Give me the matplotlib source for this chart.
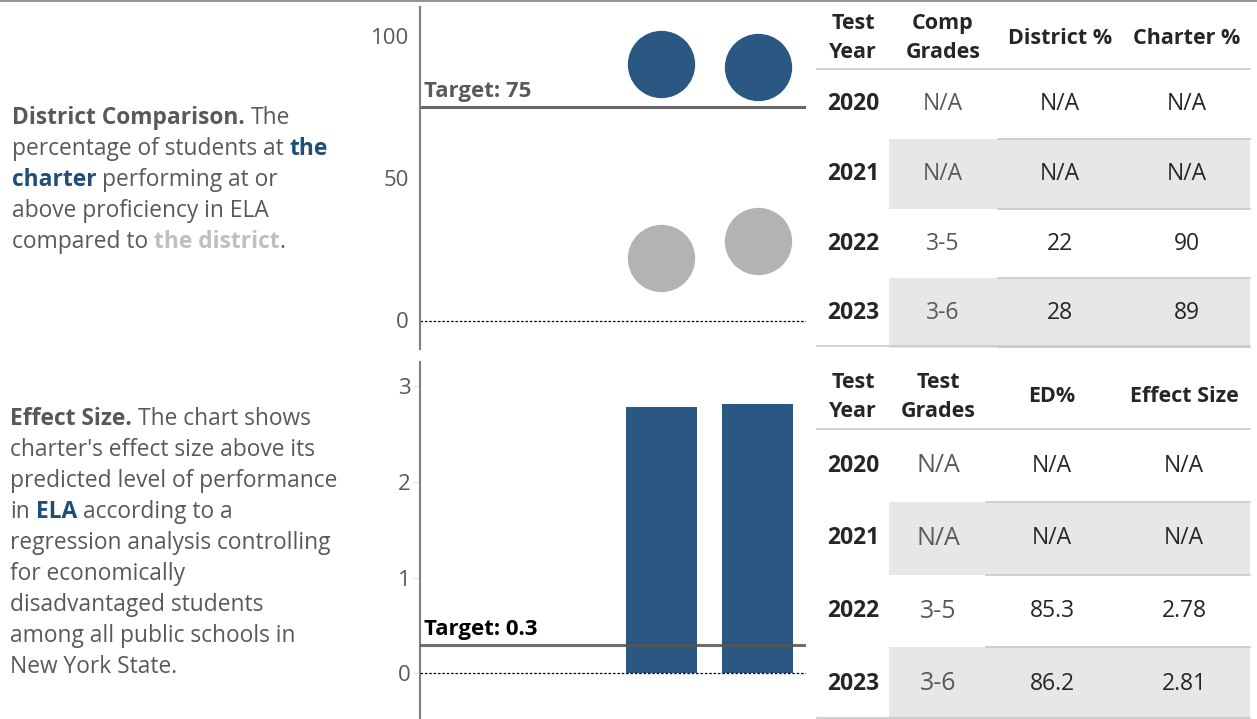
import matplotlib.pyplot as plt
from matplotlib.patches import Rectangle

plt.rcParams['font.family'] = ['Open Sans', 'DejaVu Sans']

# ---- data ----
years = ['2020', '2021', '2022', '2023']
comp_grades = ['N/A', 'N/A', '3-5', '3-6']
district_pct = [None, None, 22, 28]
charter_pct = [None, None, 90, 89]
test_grades = ['N/A', 'N/A', '3-5', '3-6']
ed_pct = [None, None, 85.3, 86.2]
effect_size = [None, None, 2.78, 2.81]
prof_target = 75
effect_target = 0.3

BLUE = '#2b5783'
LGRAY = '#b3b3b3'
TXT = '#595959'
DARK = '#262626'
W, H = 1257, 719

fig = plt.figure(figsize=(W / 100, H / 100), dpi=100)
renderer = fig.canvas.get_renderer()


def px_axes(l, t, r, b):
    return fig.add_axes([l / W, 1 - b / H, (r - l) / W, (b - t) / H])


def fmt(v, nd):
    if v is None:
        return 'N/A'
    return f'{v:.{nd}f}'


# top border
fig.add_artist(plt.Line2D([0, 1], [1 - 1 / H, 1 - 1 / H], color='#7f7f7f', lw=1.2))

# ---- left descriptive text ----
FS = 16.4
probe = fig.text(0, 0, 'a a', fontsize=FS)
probe2 = fig.text(0, 0, 'aa', fontsize=FS)
SPACE = probe.get_window_extent(renderer).width - probe2.get_window_extent(renderer).width
probe.remove()
probe2.remove()


def draw_runs(x0, y, runs):
    x = x0
    for s, weight, color in runs:
        lead = len(s) - len(s.lstrip(' '))
        trail = len(s) - len(s.rstrip(' '))
        x += lead * SPACE
        t = fig.text(x / W, 1 - y / H, s.strip(' '), fontsize=FS, fontweight=weight,
                     color=color, va='center', ha='left')
        x += t.get_window_extent(renderer).width + trail * SPACE


N, B = 'normal', 'bold'
top_lines = [
    [('District Comparison.', B, TXT), (' The', N, TXT)],
    [('percentage of students at ', N, TXT), ('the', B, '#1f4e79')],
    [('charter', B, '#1f4e79'), (' performing at or', N, TXT)],
    [('above proficiency in ELA', N, TXT)],
    [('compared to ', N, TXT), ('the district', B, '#bfbfbf'), ('.', N, TXT)],
]
for i, runs in enumerate(top_lines):
    draw_runs(12, 118 + 31 * i, runs)

bot_lines = [
    [('Effect Size.', B, TXT), (' The chart shows', N, TXT)],
    [("charter's effect size above its", N, TXT)],
    [('predicted level of performance', N, TXT)],
    [('in ', N, TXT), ('ELA', B, '#1f4e79'), (' according to a', N, TXT)],
    [('regression analysis controlling', N, TXT)],
    [('for economically', N, TXT)],
    [('disadvantaged students', N, TXT)],
    [('among all public schools in', N, TXT)],
    [('New York State.', N, TXT)],
]
for i, runs in enumerate(bot_lines):
    draw_runs(10, 419 + 31 * i, runs)

xs = list(range(len(years)))

# ---- top chart: proficiency dots ----
ax1 = px_axes(420, 7, 806, 349)
ax1.set_xlim(-0.5, 3.5)
ax1.set_ylim(-10, 110)
for x, d, c in zip(xs, district_pct, charter_pct):
    if d is not None:
        ax1.scatter(x, d, s=2350, color=LGRAY, zorder=3, linewidths=0)
    if c is not None:
        ax1.scatter(x, c, s=2350, color=BLUE, zorder=3, linewidths=0)
ax1.axhline(prof_target, color='#666666', lw=2.2, zorder=2)
ax1.axhline(0, color='black', lw=0.9, ls=(0, (2, 1.5)), zorder=2)
ax1.text(0.01, prof_target + 1.5, f'Target: {prof_target}', transform=ax1.get_yaxis_transform(),
         fontsize=16, fontweight='bold', color=TXT, va='bottom', ha='left')
ax1.set_yticks([0, 50, 100])
ax1.tick_params(axis='y', length=0, pad=8, labelsize=16, labelcolor=TXT)
ax1.set_xticks([])
for s in ['top', 'right', 'bottom']:
    ax1.spines[s].set_visible(False)
ax1.spines['left'].set_color('#7f7f7f')
ax1.spines['left'].set_linewidth(1.5)
ax1.patch.set_alpha(0)

# ---- bottom chart: effect size bars ----
ax2 = px_axes(420, 362, 806, 719)
ax2.set_xlim(-0.5, 3.5)
ax2.set_ylim(-0.475, 3.25)
ax2.bar([x for x, v in zip(xs, effect_size) if v is not None],
        [v for v in effect_size if v is not None], width=0.74, color=BLUE, zorder=2)
ax2.axhline(effect_target, color='#555555', lw=2.2, alpha=0.85, zorder=3)
ax2.axhline(0, color='black', lw=0.9, ls=(0, (2, 1.5)), zorder=3)
ax2.text(0.01, effect_target + 0.05, f'Target: {effect_target}', transform=ax2.get_yaxis_transform(),
         fontsize=16, fontweight='bold', color='black', va='bottom', ha='left')
ax2.set_yticks([0, 1, 2, 3])
ax2.tick_params(axis='y', length=5, color='#e0e0e0', pad=2, labelsize=16, labelcolor=TXT)
ax2.set_xticks([])
for s in ['top', 'right', 'bottom']:
    ax2.spines[s].set_visible(False)
ax2.spines['left'].set_color('#7f7f7f')
ax2.spines['left'].set_linewidth(1.5)
ax2.patch.set_alpha(0)


# ---- tables ----
def draw_table(top_px, bot_px, headers, col_x, cols, line_x0, grade_fs):
    ax = px_axes(810, top_px, 1257, bot_px)
    ax.set_xlim(810, 1257)
    ax.set_ylim(3.5, -1.5)
    ax.axis('off')
    for i in range(len(years)):
        if i % 2 == 1:
            ax.add_patch(Rectangle((889, i - 0.5), 1250 - 889, 1, color='#e7e7e7', lw=0, zorder=0))
            ax.plot([line_x0, 1250], [i - 0.5, i - 0.5], color='#c8c8c8', lw=1.2, zorder=1)
            ax.plot([line_x0, 1250], [i + 0.5, i + 0.5], color='#c8c8c8', lw=1.2, zorder=1)
    ax.plot([817, 1250], [-0.51, -0.51], color='#c8c8c8', lw=1.2)
    ax.plot([817, 1250], [3.47, 3.47], color='#c8c8c8', lw=1.2)
    for hx, h in zip(col_x, headers):
        ax.text(hx, -0.95, h, ha='center', va='center', fontsize=15.5, fontweight='bold',
                color=DARK, linespacing=1.5)
    for i in range(len(years)):
        ax.text(col_x[0], i, cols[0][i], ha='center', va='center', fontsize=16.5,
                fontweight='bold', color=DARK)
        ax.text(col_x[1], i, cols[1][i], ha='center', va='center', fontsize=grade_fs, color=TXT)
        ax.text(col_x[2], i, cols[2][i], ha='center', va='center', fontsize=16.5, color=DARK)
        ax.text(col_x[3], i, cols[3][i], ha='center', va='center', fontsize=16.5, color=DARK)


draw_table(0, 348, ['Test\nYear', 'Comp\nGrades', 'District %', 'Charter %'],
           [853, 943, 1060, 1187],
           [years, comp_grades, [fmt(v, 0) for v in district_pct], [fmt(v, 0) for v in charter_pct]],
           998, 16.5)
draw_table(357, 720, ['Test\nYear', 'Test\nGrades', 'ED%', 'Effect Size'],
           [853, 938, 1052, 1184],
           [years, test_grades, [fmt(v, 1) for v in ed_pct], [fmt(v, 2) for v in effect_size]],
           986, 18)

fig.savefig('out.png', dpi=100)
